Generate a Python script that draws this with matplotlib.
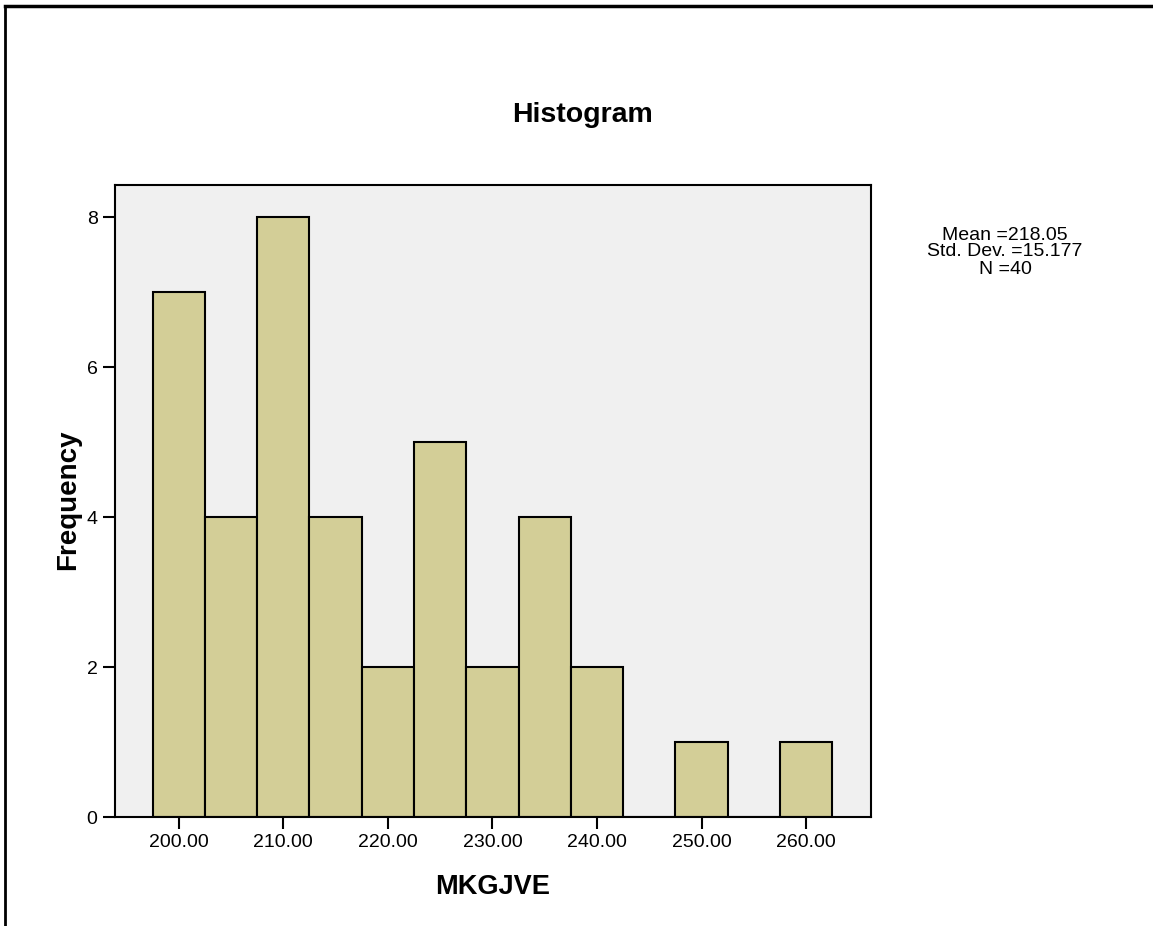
import numpy as np
import matplotlib
matplotlib.use('Agg')
import matplotlib.pyplot as plt
from matplotlib.lines import Line2D

plt.rcParams['font.family'] = ['Liberation Sans', 'DejaVu Sans']

# bin centres and counts (bin width 5)
bin_centres = [200, 205, 210, 215, 220, 225, 230, 235, 240, 245, 250, 255, 260]
counts = [7, 4, 8, 4, 2, 5, 2, 4, 2, 0, 1, 0, 1]
xticks = [200, 210, 220, 230, 240, 250, 260]
yticks = [0, 2, 4, 6, 8]
stats_lines = ['Mean =218.05', 'Std. Dev. =15.177', 'N =40']

fig = plt.figure(figsize=(11.53, 9.26), dpi=100)
ax = fig.add_axes([0.0997, 0.1177, 0.6557, 0.6825])
ax.set_facecolor('#f0f0f0')

ax.bar(bin_centres, counts, width=5, color='#d3ce97', edgecolor='black', linewidth=1.5, zorder=2)

ax.set_xlim(193.9, 266.2)
ax.set_ylim(0, 8.43)
ax.set_xticks(xticks)
ax.set_xticklabels([f'{t:.2f}' for t in xticks])
ax.set_yticks(yticks)
ax.tick_params(axis='both', direction='out', length=8.5, width=1.5, labelsize=14, pad=4)
for s in ax.spines.values():
    s.set_linewidth(1.5)

fig.text(582 / 1153, 1 - 115 / 926, 'Histogram', ha='center', va='center', fontsize=20.5, fontweight='bold')
fig.text(493 / 1153, 1 - 887 / 926, 'MKGJVE', ha='center', va='center', fontsize=19.5, fontweight='bold')
fig.text(68 / 1153, 1 - 500 / 926, 'Frequency', ha='center', va='center', fontsize=20, fontweight='bold', rotation=90)
fig.text(1005 / 1153, 1 - 252 / 926, '\n'.join(stats_lines), ha='center', va='center', fontsize=14, linespacing=1.0)

# page frame lines around the figure
fig.add_artist(Line2D([5 / 1153, 1], [1 - 6 / 926, 1 - 6 / 926], color='black', linewidth=2.5, transform=fig.transFigure))
fig.add_artist(Line2D([5 / 1153, 5 / 1153], [0, 1 - 6 / 926], color='black', linewidth=2, transform=fig.transFigure))

fig.savefig('out.png', dpi=100)
